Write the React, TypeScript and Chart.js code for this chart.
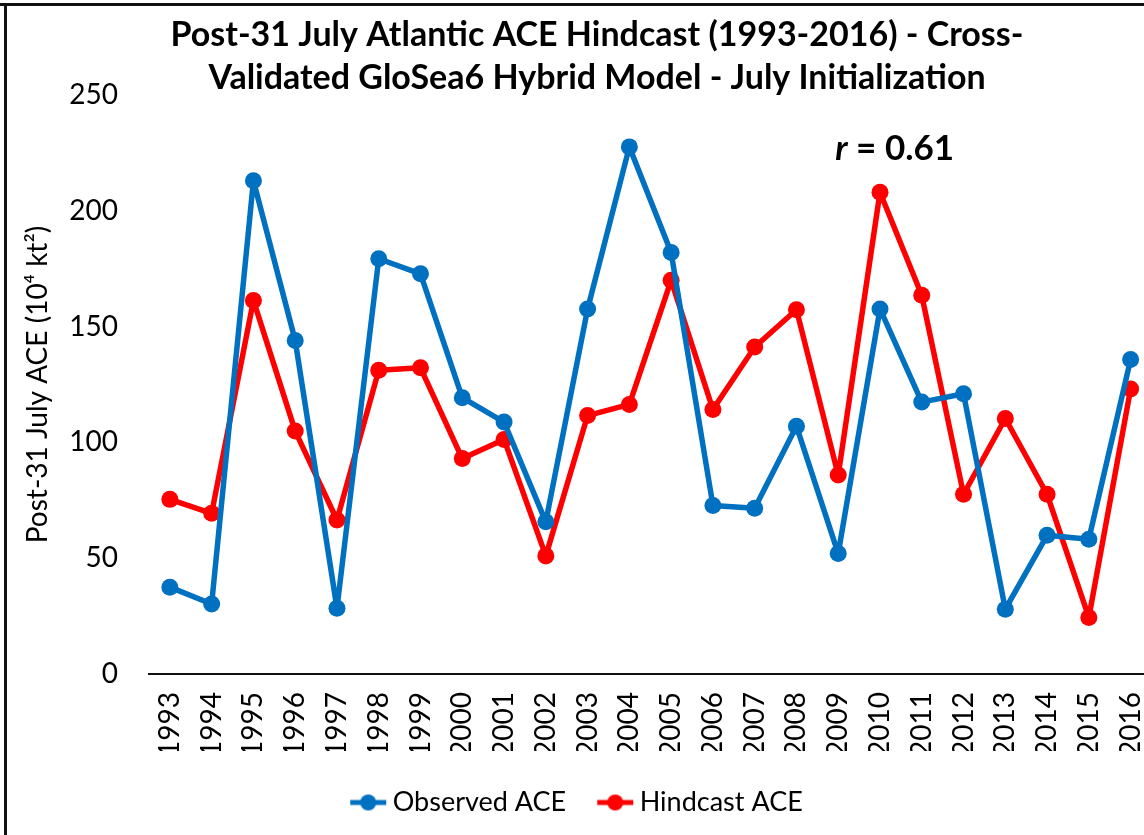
import React, { useEffect, useRef } from "react";
import { Chart, registerables } from "chart.js";

Chart.register(...registerables);

const years = [
  "1993", "1994", "1995", "1996", "1997", "1998", "1999", "2000", "2001", "2002", "2003", "2004",
  "2005", "2006", "2007", "2008", "2009", "2010", "2011", "2012", "2013", "2014", "2015", "2016",
];
const observedACE = [
  37.5, 30.2, 213, 144, 28.4, 179.3, 172.8, 119.3, 108.8, 65.7, 157.6, 227.6,
  182, 72.8, 71.6, 107, 52, 157.6, 117.4, 121, 28, 59.9, 58.2, 135.8,
];
const hindcastACE = [
  75.4, 69.4, 161.3, 104.9, 66.5, 131.2, 132.2, 93, 101.3, 51, 111.6, 116.4,
  170, 114.2, 141.2, 157.3, 85.9, 208, 163.5, 77.6, 110.3, 77.6, 24.4, 123.1,
];
const yMin = 0;
const yMax = 250;
const yStep = 50;
const titleLines = [
  "Post-31 July Atlantic ACE Hindcast (1993-2016) - Cross-",
  "Validated GloSea6 Hybrid Model - July Initialization",
];
const yAxisTitle = "Post-31 July ACE (10\u2074 kt\u00b2)";
const seriesNames = ["Observed ACE", "Hindcast ACE"];
const correlationLabel = "r";
const correlationValue = " = 0.61";

const BLUE = "#0070C0";
const RED = "#FF0000";
const FONT = "Lato, 'Open Sans', sans-serif";

function makeMarker(color: string): HTMLCanvasElement {
  const c = document.createElement("canvas");
  c.width = 38;
  c.height = 18;
  const ctx = c.getContext("2d")!;
  ctx.strokeStyle = color;
  ctx.lineWidth = 5;
  ctx.beginPath();
  ctx.moveTo(1, 9);
  ctx.lineTo(37, 9);
  ctx.stroke();
  ctx.fillStyle = color;
  ctx.beginPath();
  ctx.arc(19, 9, 8, 0, Math.PI * 2);
  ctx.fill();
  return c;
}

const decorPlugin = {
  id: "decor",
  beforeDraw(chart: any) {
    const ctx = chart.ctx;
    ctx.save();
    ctx.fillStyle = "#fff";
    ctx.fillRect(0, 0, chart.width, chart.height);
    ctx.restore();
  },
  afterDraw(chart: any) {
    const ctx = chart.ctx;
    ctx.save();
    // frame
    ctx.fillStyle = "#111";
    ctx.fillRect(0, 3, chart.width, 3);
    ctx.fillRect(4, 3, 3, chart.height);
    // title
    ctx.fillStyle = "#000";
    ctx.textAlign = "center";
    ctx.textBaseline = "middle";
    ctx.font = `bold 34px ${FONT}`;
    ctx.fillText(titleLines[0], 597, 35);
    ctx.fillText(titleLines[1], 597, 78);
    // correlation annotation
    const xs = chart.scales.x;
    const ys = chart.scales.y;
    const x0 = xs.getPixelForValue(16) - 3;
    const y0 = ys.getPixelForValue(227);
    ctx.textAlign = "left";
    ctx.font = `italic bold 35px ${FONT}`;
    ctx.fillText(correlationLabel, x0, y0);
    const w = ctx.measureText(correlationLabel).width;
    ctx.font = `bold 35px ${FONT}`;
    ctx.fillText(correlationValue, x0 + w, y0);
    ctx.restore();
  },
};

export default function App() {
  const ref = useRef<HTMLCanvasElement>(null);
  useEffect(() => {
    if (!ref.current) return;
    const markers = [makeMarker(BLUE), makeMarker(RED)];
    const common = {
      borderWidth: 5.5,
      pointRadius: 8.5,
      pointHoverRadius: 8.5,
      pointBorderWidth: 0,
      tension: 0,
      borderJoinStyle: "round",
      borderCapStyle: "round",
    };
    const chart = new Chart(ref.current, {
      type: "line",
      data: {
        labels: years,
        datasets: [
          {
            label: seriesNames[0],
            data: observedACE,
            borderColor: BLUE,
            backgroundColor: BLUE,
            pointBackgroundColor: BLUE,
            ...common,
          },
          {
            label: seriesNames[1],
            data: hindcastACE,
            borderColor: RED,
            backgroundColor: RED,
            pointBackgroundColor: RED,
            ...common,
          },
        ],
      },
      options: {
        responsive: false,
        animation: false,
        devicePixelRatio: 1,
        layout: { padding: { top: 95, left: 8, right: 8, bottom: 9 } },
        plugins: {
          title: { display: false },
          tooltip: { enabled: false },
          legend: {
            display: true,
            position: "bottom",
            labels: {
              usePointStyle: true,
              pointStyleWidth: 22,
              padding: 38,
              color: "#000",
              font: { family: FONT, size: 27 },
              generateLabels: (ch: any) =>
                ch.data.datasets.map((ds: any, i: number) => ({
                  text: ds.label,
                  pointStyle: markers[i],
                  fillStyle: ds.borderColor,
                  strokeStyle: ds.borderColor,
                  lineWidth: 0,
                  hidden: false,
                  datasetIndex: i,
                  fontColor: "#000",
                })),
            },
          },
        },
        scales: {
          x: {
            type: "category",
            offset: true,
            grid: { display: false, drawTicks: false },
            border: { display: true, color: "#111", width: 2 },
            ticks: {
              autoSkip: false,
              minRotation: 90,
              maxRotation: 90,
              padding: 18,
              color: "#000",
              font: { family: FONT, size: 28 },
            },
            afterFit: (s: any) => {
              s.height = 77;
              s.paddingLeft = 0;
              s.paddingRight = 0;
            },
          },
          y: {
            min: yMin,
            max: yMax,
            grid: { display: false, drawTicks: false },
            border: { display: false },
            ticks: {
              stepSize: yStep,
              padding: 31,
              color: "#000",
              font: { family: FONT, size: 28 },
            },
            title: {
              display: true,
              text: yAxisTitle,
              color: "#000",
              font: { family: FONT, size: 28 },
              padding: { top: 13, bottom: 0 },
            },
            afterFit: (s: any) => {
              s.width = 141;
            },
          },
        },
      },
      plugins: [decorPlugin],
    } as any);
    return () => chart.destroy();
  }, []);
  return (
    <div
      style={{
        position: "absolute",
        left: 0,
        top: 0,
        width: 1144,
        height: 835,
        overflow: "hidden",
        background: "#fff",
      }}
    >
      <canvas ref={ref} width={1160} height={835} style={{ display: "block" }} />
    </div>
  );
}
